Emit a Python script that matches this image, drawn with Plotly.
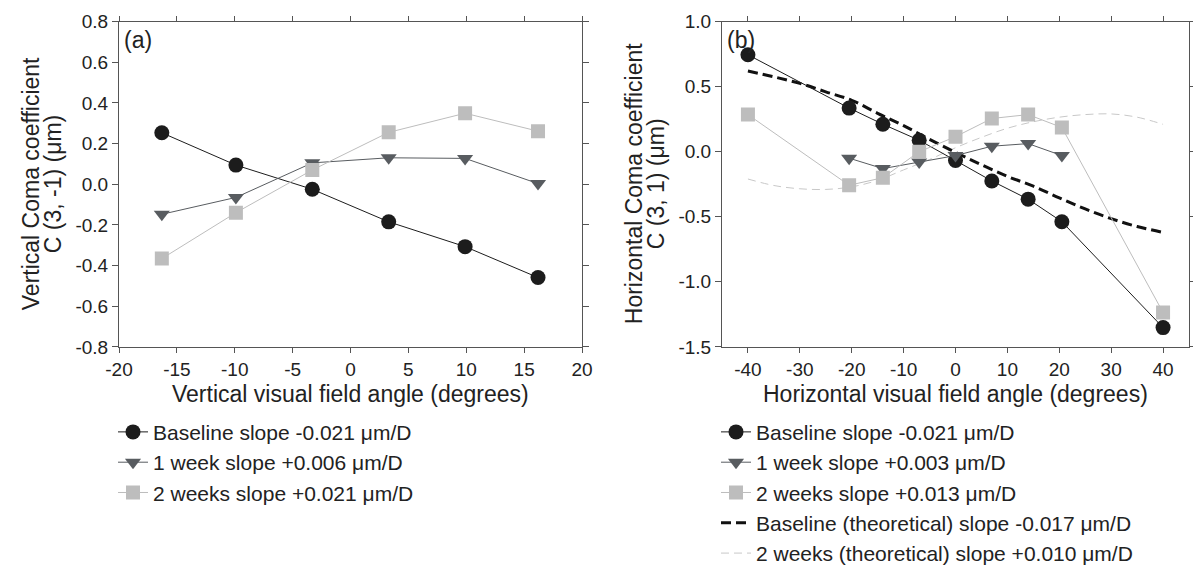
import plotly.graph_objects as go

# ---------------- data: panel (a) vertical ----------------
va_angle = [-16.3, -9.9, -3.3, 3.3, 9.9, 16.2]
va_baseline = [0.253, 0.094, -0.025, -0.185, -0.307, -0.459]
va_week1 = [-0.148, -0.065, 0.105, 0.13, 0.127, 0.003]
va_week2 = [-0.366, -0.14, 0.07, 0.255, 0.349, 0.261]

# ---------------- data: panel (b) horizontal ----------------
hb_angle = [-40, -20.5, -14, -7, 0, 7, 14, 20.5, 40]
hb_baseline = [0.745, 0.335, 0.211, 0.088, -0.068, -0.225, -0.365, -0.538, -1.352]
hb_w1_angle = [-20.5, -14, -7, 0, 7, 14, 20.5]
hb_week1 = [-0.05, -0.13, -0.08, -0.03, 0.042, 0.062, -0.03]
hb_week2 = [0.285, -0.258, -0.2, 0.0, 0.115, 0.255, 0.285, 0.186, -1.236]

th_angle = [-40, -35, -30, -25, -20, -15, -10, -5, 0, 5, 10, 15, 20, 25, 30, 35, 40]
th_baseline = [0.62, 0.575, 0.525, 0.46, 0.395, 0.295, 0.2, 0.095, -0.005,
               -0.1, -0.19, -0.265, -0.355, -0.44, -0.515, -0.575, -0.62]
th_week2 = [-0.21, -0.26, -0.285, -0.29, -0.27, -0.22, -0.14, -0.06, 0.03,
            0.11, 0.18, 0.23, 0.265, 0.285, 0.29, 0.265, 0.21]

a_xticks = [-20, -15, -10, -5, 0, 5, 10, 15, 20]
a_yticks = [-0.8, -0.6, -0.4, -0.2, 0.0, 0.2, 0.4, 0.6, 0.8]
b_xticks = [-40, -30, -20, -10, 0, 10, 20, 30, 40]
b_yticks = [-1.5, -1.0, -0.5, 0.0, 0.5, 1.0]

W, H = 1201, 566
FONT = "Liberation Sans, Arial, sans-serif"
TXT = "#222222"
C_BASE = "#1c1c1c"
C_W1 = "#585c60"
C_W2 = "#bdbdbd"
mu = "\u03bcm/D"

# pixel geometry of the two plot boxes
A_L, A_R = 111, 574
B_L, B_R = 714, 1181
P_T, P_B = 14, 350

fig = go.Figure()

def pts(x, y, name, color, symbol, msize, xa, ya, legend, rank):
    fig.add_trace(go.Scatter(
        x=x, y=y, name=name, mode="lines+markers",
        line=dict(color=color, width=1),
        marker=dict(symbol=symbol, size=msize, color=color),
        xaxis=xa, yaxis=ya, legend=legend, legendrank=rank))

pts(va_angle, va_baseline, "Baseline slope -0.021 " + mu, C_BASE, "circle", 15, "x", "y", "legend", 1)
pts(va_angle, va_week1, "1 week slope +0.006 " + mu, C_W1, "triangle-down", 14, "x", "y", "legend", 2)
pts(va_angle, va_week2, "2 weeks slope +0.021 " + mu, C_W2, "square", 14, "x", "y", "legend", 3)

# theoretical curves (panel b), drawn beneath the measured points
fig.add_trace(go.Scatter(
    x=th_angle, y=th_week2, mode="lines", line_shape="spline",
    line=dict(color="#c8c8c8", width=1, dash="8px,5px"),
    name="2 weeks (theoretical) slope +0.010 " + mu,
    xaxis="x2", yaxis="y2", legend="legend2", legendrank=5))
fig.add_trace(go.Scatter(
    x=th_angle, y=th_baseline, mode="lines", line_shape="spline",
    line=dict(color="#111111", width=3, dash="10px,5px"),
    name="Baseline (theoretical) slope -0.017 " + mu,
    xaxis="x2", yaxis="y2", legend="legend2", legendrank=4))

pts(hb_angle, hb_baseline, "Baseline slope -0.021 " + mu, C_BASE, "circle", 15, "x2", "y2", "legend2", 1)
pts(hb_w1_angle, hb_week1, "1 week slope +0.003 " + mu, C_W1, "triangle-down", 14, "x2", "y2", "legend2", 2)
pts(hb_angle, hb_week2, "2 weeks slope +0.013 " + mu, C_W2, "square", 14, "x2", "y2", "legend2", 3)

def axis(**kw):
    d = dict(showline=True, linecolor="#555555", linewidth=1, mirror="ticks",
             ticks="outside", tickcolor="#555555", tickwidth=1,
             showgrid=False, zeroline=False, automargin=False,
             tickfont=dict(family=FONT, size=19, color=TXT))
    d.update(kw)
    return d

ydom = [1 - P_B / H, 1 - P_T / H]
ymid = 1 - (P_T + P_B) / 2 / H
TFS = 23

def px(x):
    return x / W

def py(y):
    return 1 - y / H

annotations = [
    # y-axis titles (two lines each)
    dict(text="Vertical Coma coefficient", x=px(23), y=ymid, textangle=-90),
    dict(text="C (3, -1) (\u03bcm)", x=px(45), y=ymid, textangle=-90),
    dict(text="Horizontal Coma coefficient", x=px(B_L - 88), y=ymid, textangle=-90),
    dict(text="C (3, 1) (\u03bcm)", x=px(B_L - 66), y=ymid, textangle=-90),
    # x-axis titles
    dict(text="Vertical visual field angle (degrees)", x=px((A_L + A_R) / 2), y=py(399)),
    dict(text="Horizontal visual field angle (degrees)", x=px((B_L + B_R) / 2), y=py(399)),
]
for a in annotations:
    a.update(xref="paper", yref="paper", xanchor="center", yanchor="middle",
             showarrow=False, font=dict(family=FONT, size=TFS, color=TXT))
annotations += [
    dict(text="(a)", x=px(A_L + 3), y=py(18), xref="paper", yref="paper",
         xanchor="left", yanchor="top", showarrow=False,
         font=dict(family=FONT, size=TFS, color=TXT)),
    dict(text="(b)", x=px(B_L + 3), y=py(18), xref="paper", yref="paper",
         xanchor="left", yanchor="top", showarrow=False,
         font=dict(family=FONT, size=TFS, color=TXT)),
]

fig.update_layout(
    template="none",
    width=W, height=H,
    margin=dict(l=0, r=0, t=0, b=0),
    paper_bgcolor="white", plot_bgcolor="white",
    font=dict(family=FONT, size=19, color=TXT),
    showlegend=True,
    xaxis=axis(domain=[px(A_L), px(A_R)], range=[-20, 20], ticklen=5,
               tickvals=a_xticks, ticktext=[str(v) for v in a_xticks], anchor="y"),
    yaxis=axis(domain=ydom, range=[-0.8, 0.8], ticklen=6,
               tickvals=a_yticks, ticktext=["%.1f" % v for v in a_yticks], anchor="x"),
    xaxis2=axis(domain=[px(B_L), px(B_R)], range=[-45, 45], ticklen=5,
                tickvals=b_xticks, ticktext=[str(v) for v in b_xticks], anchor="y2"),
    yaxis2=axis(domain=ydom, range=[-1.5, 1.0], ticklen=6,
                tickvals=b_yticks, ticktext=["%.1f" % v for v in b_yticks], anchor="x2"),
    legend=dict(x=px(105), y=py(417), xanchor="left", yanchor="top",
                bgcolor="rgba(0,0,0,0)", font=dict(family=FONT, size=21, color=TXT),
                itemwidth=30, traceorder="normal"),
    legend2=dict(x=px(708), y=py(417), xanchor="left", yanchor="top",
                 bgcolor="rgba(0,0,0,0)", font=dict(family=FONT, size=21, color=TXT),
                 itemwidth=30, traceorder="normal"),
    annotations=annotations,
)

fig.write_html("out.html")
